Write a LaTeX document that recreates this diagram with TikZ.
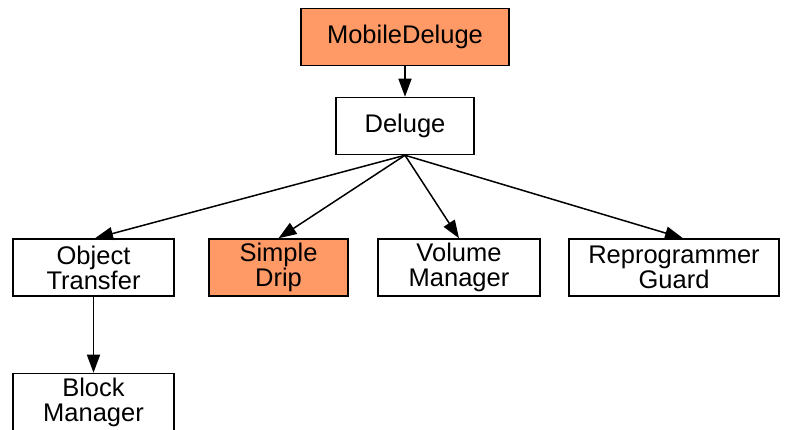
\documentclass[tikz,border=0pt]{standalone}
\usepackage{fontspec}
\setmainfont{Liberation Sans}
\usetikzlibrary{arrows.meta}
\definecolor{hilite}{RGB}{255,153,102}
\tikzset{
  box/.style={draw=black, line width=1.5pt, fill=white, minimum height=57pt,
    inner sep=0pt, align=center,
    font=\fontsize{25.5}{25}\selectfont},
  hot/.style={box, fill=hilite},
  link/.style={line width=1.5pt, -{Triangle[length=18pt,width=13pt]}}
}
\begin{document}
\begin{tikzpicture}[x=1pt,y=-1pt]
  \useasboundingbox (0,0) rectangle (790,430);
  \clip (0,0) rectangle (790,430);
  \node[hot, minimum width=208pt] (md) at (405,37) {MobileDeluge};
  \node[box, minimum width=138pt] (dl) at (405,126) {Deluge};
  \node[box, minimum width=161pt] (ot) at (93.5,267.5) {Object\\Transfer};
  \node[hot, minimum width=139pt] (sd) at (278.5,267.5) {Simple\\Drip};
  \node[box, minimum width=162pt] (vm) at (459,267.5) {Volume\\Manager};
  \node[box, minimum width=210pt] (rg) at (674,267.5) {Reprogrammer\\Guard};
  \node[box, minimum width=161pt] (bm) at (93.5,402) {Block\\Manager};
  \draw[link] (md) -- (dl);
  \draw[link] (dl.south) -- ([xshift=1.5pt]ot.north);
  \draw[link] (dl.south) -- (sd.north);
  \draw[link] (dl.south) -- (vm.north);
  \draw[link] (dl.south) -- ([xshift=9pt]rg.north);
  \draw[link] (ot) -- (bm);
\end{tikzpicture}
\end{document}
